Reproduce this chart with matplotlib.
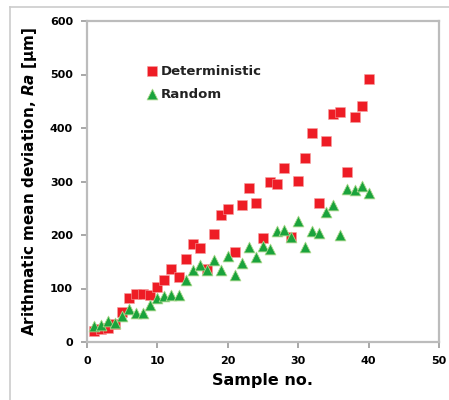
import numpy as np
import matplotlib
matplotlib.use("Agg")
from matplotlib import pyplot as plt
from matplotlib.lines import Line2D

plt.rcParams['font.family'] = ['DejaVu Sans']
plt.rcParams['mathtext.fontset'] = 'dejavusans'

samples = list(range(1, 41))
deterministic = [20, 25, 27, 33, 57, 83, 90, 90, 87, 103,
                 116, 137, 122, 156, 184, 175, 136, 201, 237, 248,
                 168, 256, 288, 259, 194, 300, 296, 326, 196, 301,
                 343, 391, 259, 376, 426, 430, 318, 421, 442, 491]
random_ = [30, 32, 39, 35, 49, 61, 55, 55, 70, 83,
           86, 88, 88, 116, 135, 143, 135, 153, 135, 161,
           125, 147, 178, 159, 179, 173, 208, 210, 196, 226,
           178, 207, 203, 243, 256, 200, 286, 285, 292, 278]

fig = plt.figure(figsize=(4.49, 4.0), dpi=100)
ax = fig.add_axes([87 / 449, 1 - 342 / 400, 352 / 449, 321 / 400])

ax.scatter(samples, deterministic, marker='s', s=42, color='#ee1c25',
           edgecolors='#f5a0a0', linewidths=0.4, label='Deterministic', zorder=2)
ax.scatter(samples, random_, marker='^', s=60, color='#1aa33c',
           edgecolors='#a8d88a', linewidths=0.6, label='Random', zorder=3)

ax.set_xlim(0, 50)
ax.set_ylim(0, 600)
ax.set_xticks(np.arange(0, 51, 10))
ax.set_yticks(np.arange(0, 601, 100))
for s in ax.spines.values():
    s.set_color('#bcbcbc')
    s.set_linewidth(1.6)
ax.tick_params(direction='out', length=4, width=1.2, color='#999999',
               labelsize=8, pad=6)
for lab in ax.get_xticklabels() + ax.get_yticklabels():
    lab.set_fontweight('bold')

ax.set_xlabel('Sample no.', fontsize=11.5, fontweight='bold', labelpad=5)
ax.set_ylabel(r'Arithmatic mean deviation, $\mathbfit{Ra}$ [μm]',
              fontsize=11, fontweight='bold', labelpad=8)

leg = ax.legend(loc='upper left', bbox_to_anchor=(0.146, 0.88), frameon=False,
                prop={'weight': 'semibold', 'size': 9.5},
                handletextpad=0.1, labelspacing=0.75, borderaxespad=0,
                handlelength=1.2, scatterpoints=1)
for t in leg.get_texts():
    t.set_color('#222222')

# outer chart border (top and left only)
fig.add_artist(Line2D([10 / 449, 1], [1 - 7 / 400, 1 - 7 / 400],
                      color='#cccccc', lw=1.2, transform=fig.transFigure))
fig.add_artist(Line2D([10 / 449, 10 / 449], [0, 1 - 7 / 400],
                      color='#cccccc', lw=1.2, transform=fig.transFigure))

fig.savefig('out.png', dpi=100)
